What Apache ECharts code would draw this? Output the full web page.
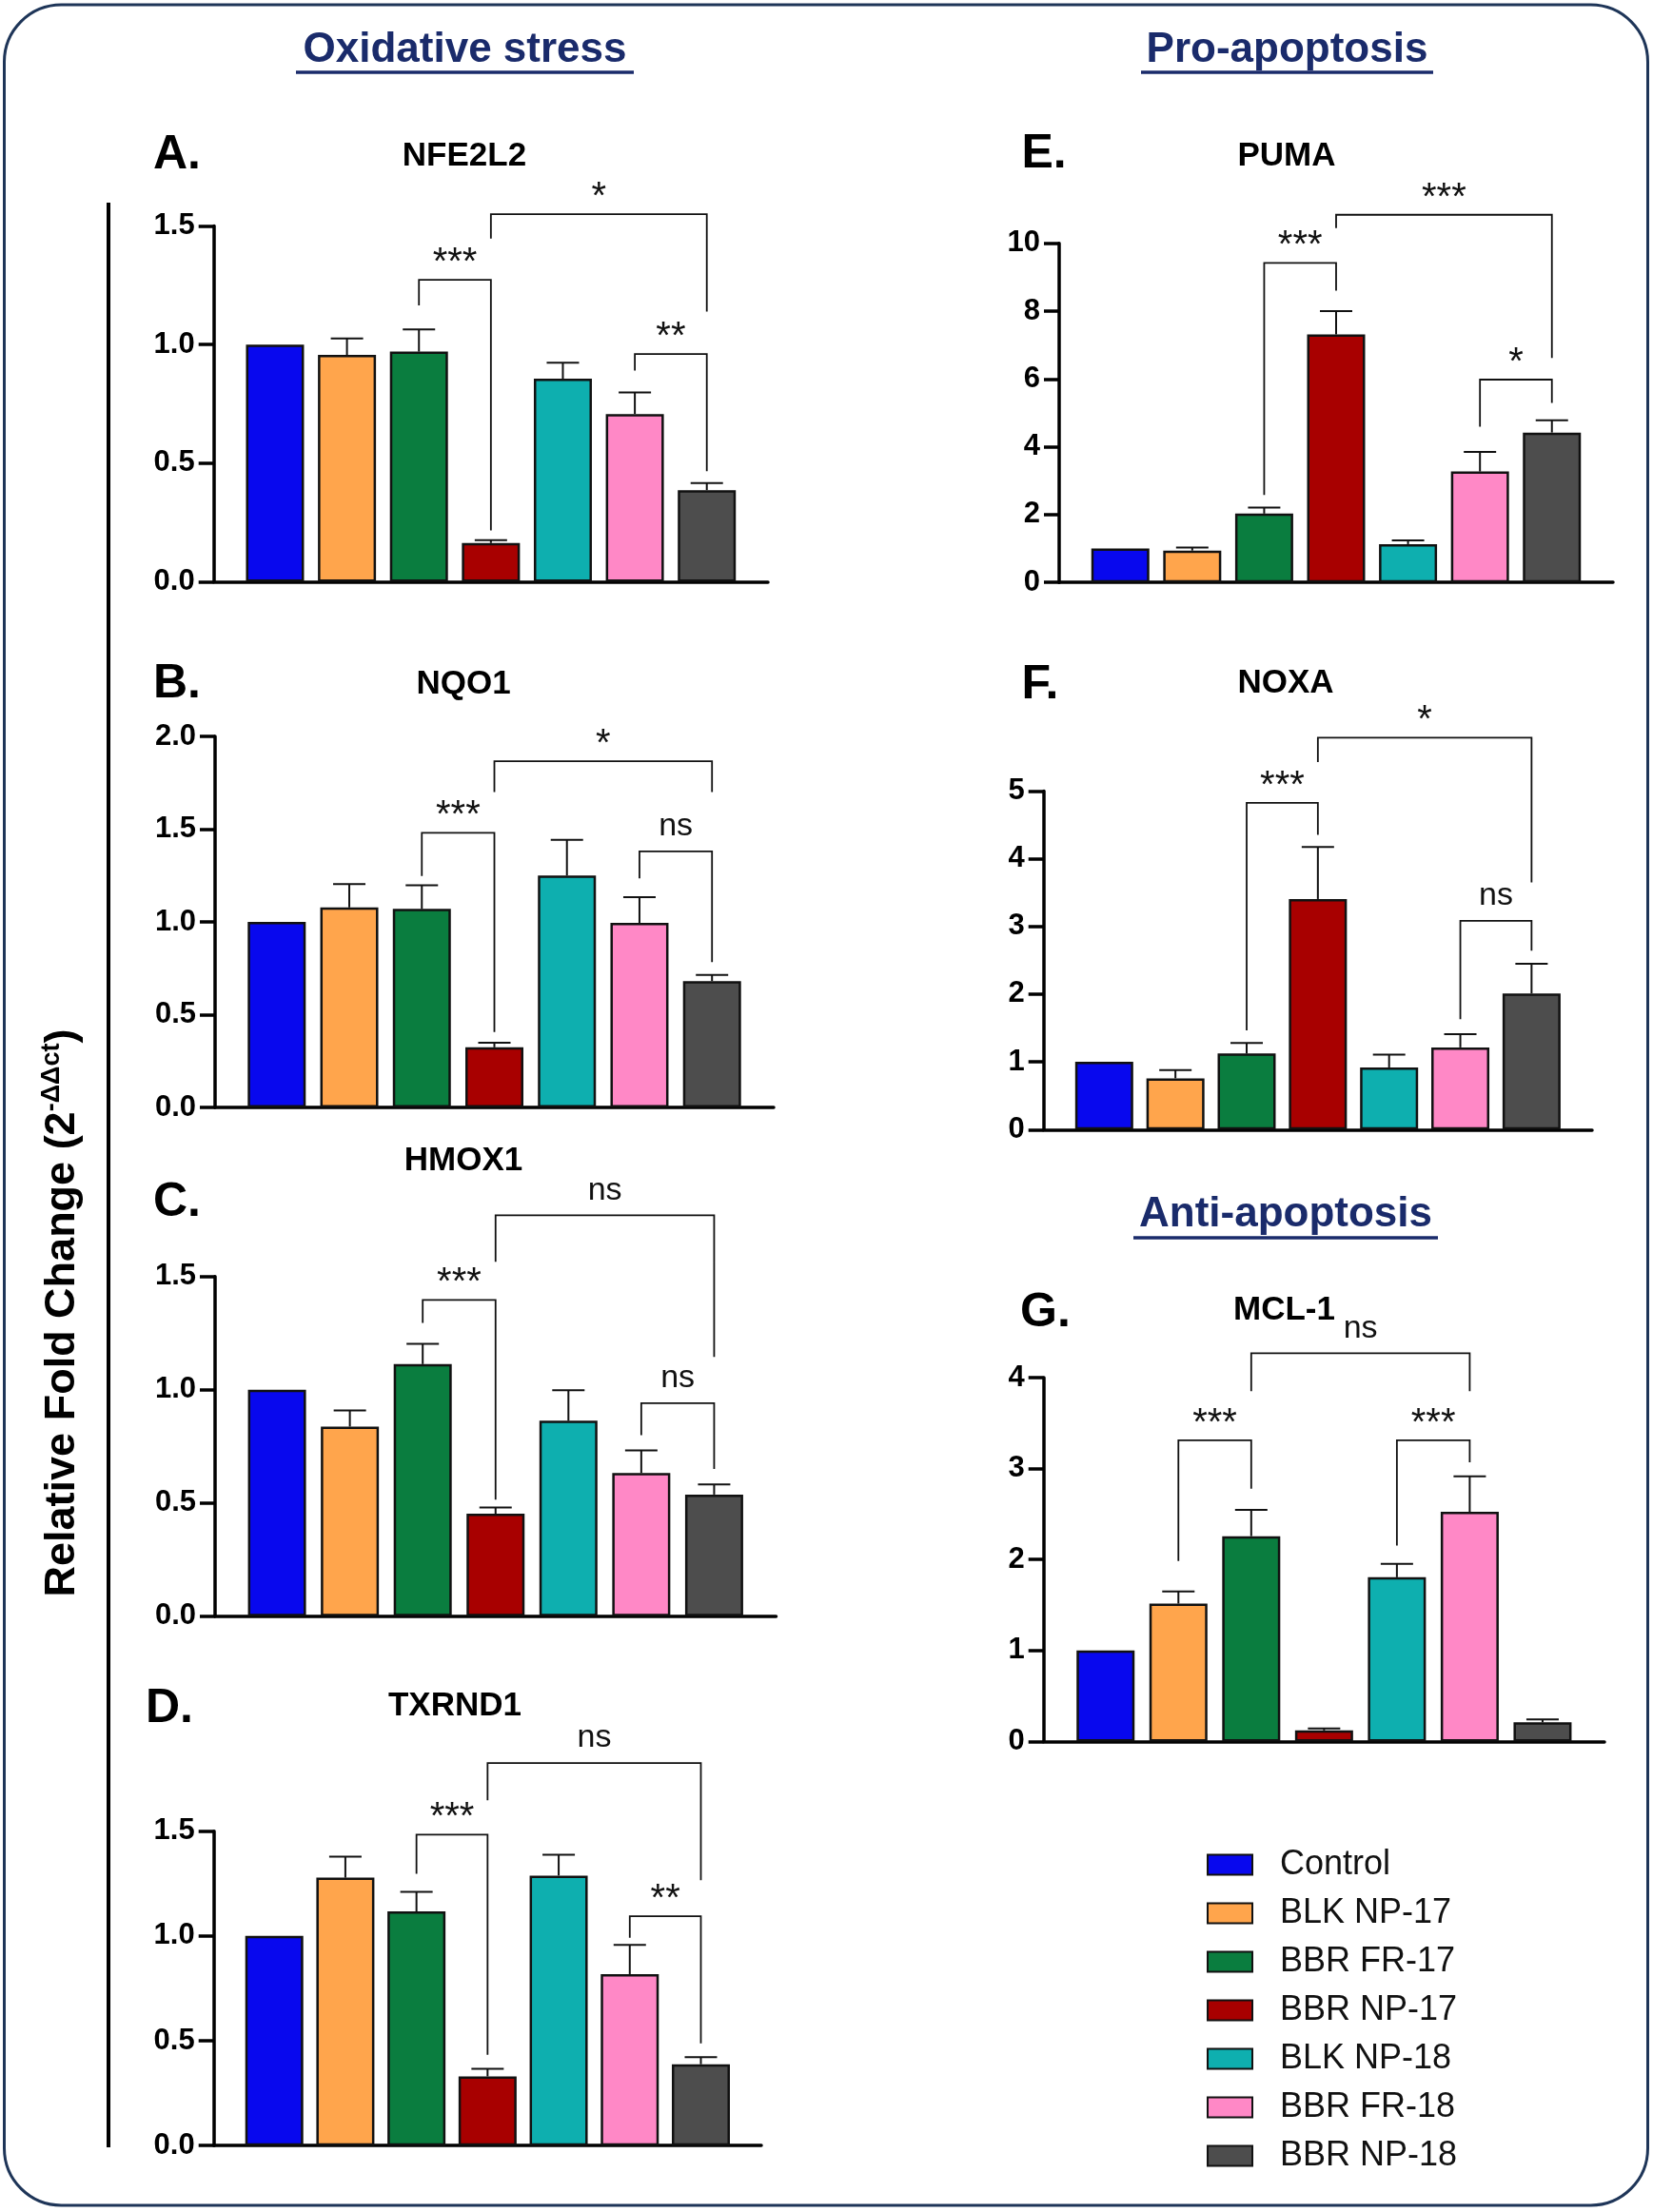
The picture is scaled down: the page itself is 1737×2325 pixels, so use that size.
<!DOCTYPE html>
<html>
<head>
<meta charset="utf-8">
<title>Relative fold change</title>
<script src="https://cdn.jsdelivr.net/npm/echarts@6/dist/echarts.min.js"></script>
<style>
html, body { margin: 0; padding: 0; background: #fff; }
#main { width: 1737px; height: 2325px; }
</style>
</head>
<body>
<div id="main"></div>
<script>
var FONT = '"Liberation Sans", Arial, sans-serif';

var groups = ['Control', 'BLK NP-17', 'BBR FR-17', 'BBR NP-17', 'BLK NP-18', 'BBR FR-18', 'BBR NP-18'];
var colors = ['#0808ee', '#ffa54c', '#0a7d3f', '#a80000', '#0eafaf', '#ff88c6', '#4d4d4d'];

// mean fold change and upper error (SEM) per group
var nfe2l2 = [1.0, 0.956, 0.970, 0.163, 0.856, 0.707, 0.386];
var nfe2l2Err = [0, 0.07, 0.094, 0.012, 0.067, 0.091, 0.03];
var nqo1 = [1.0, 1.078, 1.070, 0.324, 1.25, 0.995, 0.681];
var nqo1Err = [0, 0.126, 0.127, 0.025, 0.192, 0.138, 0.033];
var hmox1 = [1.0, 0.837, 1.113, 0.452, 0.863, 0.632, 0.537];
var hmox1Err = [0, 0.071, 0.089, 0.028, 0.135, 0.1, 0.045];
var txrnd1 = [1.0, 1.278, 1.117, 0.330, 1.288, 0.818, 0.388];
var txrnd1Err = [0, 0.1, 0.093, 0.036, 0.1, 0.139, 0.034];
var puma = [1.0, 0.94, 2.03, 7.31, 1.13, 3.27, 4.42];
var pumaErr = [0, 0.09, 0.18, 0.69, 0.11, 0.58, 0.36];
var noxa = [1.0, 0.757, 1.123, 3.405, 0.918, 1.214, 2.011];
var noxaErr = [0, 0.121, 0.156, 0.767, 0.19, 0.195, 0.436];
var mcl1 = [1.0, 1.515, 2.257, 0.121, 1.805, 2.525, 0.21];
var mcl1Err = [0, 0.134, 0.29, 0.022, 0.148, 0.389, 0.031];

// significance brackets: [left group, right group, top, left foot, right foot]
var nfe2l2Sig = [[2, 3, 1.273, 1.165, 0.216], [3, 6, 1.55, 1.447, 1.139], [5, 6, 0.96, 0.89, 0.466]];
var nfe2l2Txt = ['***', '*', '**'];
var nqo1Sig = [[2, 3, 1.48, 1.248, 0.406], [3, 6, 1.866, 1.70, 1.70], [5, 6, 1.38, 1.235, 0.783]];
var nqo1Txt = ['***', '*', 'ns'];
var hmox1Sig = [[2, 3, 1.3965, 1.2945, 0.5145], [3, 6, 1.77, 1.5645, 1.1445], [5, 6, 0.9405, 0.7995, 0.6495]];
var hmox1Txt = ['***', 'ns', 'ns'];
var txrnd1Sig = [[2, 3, 1.483, 1.297, 0.433], [3, 6, 1.825, 1.647, 1.266], [5, 6, 1.094, 0.992, 0.488]];
var txrnd1Txt = ['***', 'ns', '**'];
var pumaSig = [[2, 3, 9.42, 2.58, 8.6], [3, 6, 10.84, 10.45, 6.62], [5, 6, 5.98, 4.59, 5.29]];
var pumaTxt = ['***', '***', '*'];
var noxaSig = [[2, 3, 4.824, 1.464, 4.353], [3, 6, 5.787, 5.426, 3.651], [5, 6, 3.084, 1.63, 2.643]];
var noxaTxt = ['***', '*', 'ns'];
var mcl1Sig = [[1, 2, 3.31, 1.984, 2.78], [2, 5, 4.268, 3.852, 3.852], [4, 5, 3.31, 2.154, 3.07]];
var mcl1Txt = ['***', 'ns', '***'];

var panels = [
  { letter: 'A.', gene: 'NFE2L2', mean: nfe2l2, err: nfe2l2Err, sig: nfe2l2Sig, txt: nfe2l2Txt, max: 1.5, step: 0.5, dec: 1,
    box: [224.7, 237.5, 582.3, 373.9], lpos: [161, 163.5], tpos: [488, 164.8] },
  { letter: 'B.', gene: 'NQO1', mean: nqo1, err: nqo1Err, sig: nqo1Sig, txt: nqo1Txt, max: 2.0, step: 0.5, dec: 1,
    box: [226, 774, 587, 390], lpos: [161, 719.6], tpos: [487, 719] },
  { letter: 'C.', gene: 'HMOX1', mean: hmox1, err: hmox1Err, sig: hmox1Sig, txt: hmox1Txt, max: 1.5, step: 0.5, dec: 1,
    box: [226, 1341.7, 589.5, 357], lpos: [161, 1264], tpos: [487, 1220.7] },
  { letter: 'D.', gene: 'TXRND1', mean: txrnd1, err: txrnd1Err, sig: txrnd1Sig, txt: txrnd1Txt, max: 1.5, step: 0.5, dec: 1,
    box: [224.7, 1924.7, 575.3, 330.5], lpos: [153, 1796.5], tpos: [478, 1793.7] },
  { letter: 'E.', gene: 'PUMA', mean: puma, err: pumaErr, sig: pumaSig, txt: pumaTxt, max: 10, step: 2, dec: 0,
    box: [1113, 255.7, 582, 356.5], lpos: [1073.5, 162.6], tpos: [1352, 164.8] },
  { letter: 'F.', gene: 'NOXA', mean: noxa, err: noxaErr, sig: noxaSig, txt: noxaTxt, max: 5, step: 1, dec: 0,
    box: [1096.7, 831.4, 576.3, 355.9], lpos: [1073.5, 720.5], tpos: [1351, 718] },
  { letter: 'G.', gene: 'MCL-1', mean: mcl1, err: mcl1Err, sig: mcl1Sig, txt: mcl1Txt, max: 4, step: 1, dec: 0,
    box: [1096.7, 1448, 589.3, 382.4], lpos: [1072, 1380], tpos: [1349.5, 1377] }
];

function drawErr(params, api) {
  var e = api.value(2);
  if (!e) return;
  var x = api.value(0), y = api.value(1);
  var p0 = api.coord([x, y]);
  var p1 = api.coord([x, y + e]);
  return {
    type: 'group',
    children: [
      { type: 'line', shape: { x1: p0[0], y1: p0[1], x2: p1[0], y2: p1[1] }, style: { stroke: '#111', lineWidth: 2 } },
      { type: 'line', shape: { x1: p1[0] - 17, y1: p1[1], x2: p1[0] + 17, y2: p1[1] }, style: { stroke: '#111', lineWidth: 2 } }
    ]
  };
}

function bracketDrawer(labels) {
  return function (params, api) {
    var a = api.value(0), b = api.value(1), top = api.value(2);
    var l0 = api.coord([a, api.value(3)]);
    var l1 = api.coord([a, top]);
    var r1 = api.coord([b, top]);
    var r0 = api.coord([b, api.value(4)]);
    var txt = labels[params.dataIndex];
    var star = txt.indexOf('*') >= 0;
    return {
      type: 'group',
      children: [
        { type: 'polyline', shape: { points: [l0, l1, r1, r0] }, style: { stroke: '#111', lineWidth: 1.8, fill: 'none' } },
        { type: 'text', x: (l1[0] + r1[0]) / 2, y: l1[1] - (star ? -3 : 9),
          style: { text: txt, fontSize: star ? 40 : 34, fontFamily: FONT, fill: '#111', align: 'center', verticalAlign: 'bottom' } }
      ]
    };
  };
}

var grids = [], xAxes = [], yAxes = [], series = [];
var graphics = [
  { type: 'rect', shape: { x: 4.5, y: 5, width: 1727, height: 2313, r: 60 }, style: { fill: 'none', stroke: '#1e3558', lineWidth: 3 }, silent: true },
  { type: 'line', shape: { x1: 114, y1: 213, x2: 114, y2: 2257 }, style: { stroke: '#000', lineWidth: 4 } },
  { type: 'text', x: 66, y: 1380, rotation: Math.PI / 2,
    style: { text: '{m|Relative Fold Change (2}{s|-ΔΔct}{m|)}', align: 'center', verticalAlign: 'middle', fill: '#000',
      rich: {
        m: { fontSize: 45, fontWeight: 'bold', fontFamily: FONT, fill: '#000', lineHeight: 50 },
        s: { fontSize: 27, fontWeight: 'bold', fontFamily: FONT, fill: '#000', verticalAlign: 'top', lineHeight: 30 }
      } } }
];

// section headings
var heads = [['Oxidative stress', 488.5, 52.6, 311, 666, 76], ['Pro-apoptosis', 1352.5, 52.6, 1199, 1506, 76], ['Anti-apoptosis', 1351, 1277, 1191, 1511, 1301]];
heads.forEach(function (h) {
  graphics.push({ type: 'text', x: h[1], y: h[2], style: { text: h[0], fontSize: 44, fontWeight: 'bold', fontFamily: FONT, fill: '#1a2b6b', align: 'center', verticalAlign: 'middle' } });
  graphics.push({ type: 'line', shape: { x1: h[3], y1: h[5], x2: h[4], y2: h[5] }, style: { stroke: '#1a2b6b', lineWidth: 3.5 } });
});

panels.forEach(function (p, i) {
  grids.push({ left: p.box[0], top: p.box[1], width: p.box[2], height: p.box[3], outerBoundsMode: 'none' });
  xAxes.push({
    gridIndex: i, type: 'value', min: -0.85, max: 6.85,
    axisLine: { show: true, onZero: false, lineStyle: { color: '#000', width: 3.5 } },
    axisTick: { show: false }, axisLabel: { show: false }, splitLine: { show: false }
  });
  yAxes.push({
    gridIndex: i, type: 'value', min: 0, max: p.max, interval: p.step,
    axisLine: { show: true, onZero: false, lineStyle: { color: '#000', width: 3.5 } },
    axisTick: { show: true, length: 16, lineStyle: { color: '#000', width: 3.5 } },
    axisLabel: { fontSize: 31, fontWeight: 'bold', fontFamily: FONT, color: '#000', margin: 20,
      formatter: (function (d) { return function (v) { return v.toFixed(d); }; })(p.dec) },
    splitLine: { show: false }
  });
  series.push({
    type: 'bar', xAxisIndex: i, yAxisIndex: i, barWidth: 61, silent: true,
    itemStyle: { borderColor: '#111', borderWidth: 2.5 },
    data: p.mean.map(function (v, j) { return { value: [j, v], itemStyle: { color: colors[j] } }; })
  });
  series.push({
    type: 'custom', xAxisIndex: i, yAxisIndex: i, clip: false, silent: true, z: 3,
    renderItem: drawErr,
    data: p.mean.map(function (v, j) { return [j, v, p.err[j]]; })
  });
  series.push({
    type: 'custom', xAxisIndex: i, yAxisIndex: i, clip: false, silent: true, z: 4,
    renderItem: bracketDrawer(p.txt),
    data: p.sig
  });
  graphics.push({ type: 'text', x: p.lpos[0], y: p.lpos[1], style: { text: p.letter, fontSize: 50, fontWeight: 'bold', fontFamily: FONT, fill: '#000', align: 'left', verticalAlign: 'middle' } });
  graphics.push({ type: 'text', x: p.tpos[0], y: p.tpos[1], style: { text: p.gene, fontSize: 35, fontWeight: 'bold', fontFamily: FONT, fill: '#000', align: 'center', verticalAlign: 'middle' } });
});

// legend entries
groups.forEach(function (g, j) {
  series.push({ type: 'scatter', name: g, xAxisIndex: 6, yAxisIndex: 6, data: [],
    itemStyle: { color: colors[j], opacity: 1, borderColor: '#111', borderWidth: 2 } });
});

var chart = echarts.init(document.getElementById('main'));
chart.setOption({
  animation: false,
  backgroundColor: '#fff',
  grid: grids,
  xAxis: xAxes,
  yAxis: yAxes,
  legend: {
    orient: 'vertical', left: 1268, top: 1942, padding: 0,
    itemWidth: 47, itemHeight: 21, itemGap: 15, icon: 'rect', selectedMode: false,
    itemStyle: { opacity: 1 },
    textStyle: { fontSize: 36, color: '#111', fontFamily: FONT, lineHeight: 34, padding: [0, 0, 0, 24] },
    data: groups
  },
  graphic: graphics,
  series: series
});
window.addEventListener('resize', function () { chart.resize(); });
</script>
</body>
</html>
